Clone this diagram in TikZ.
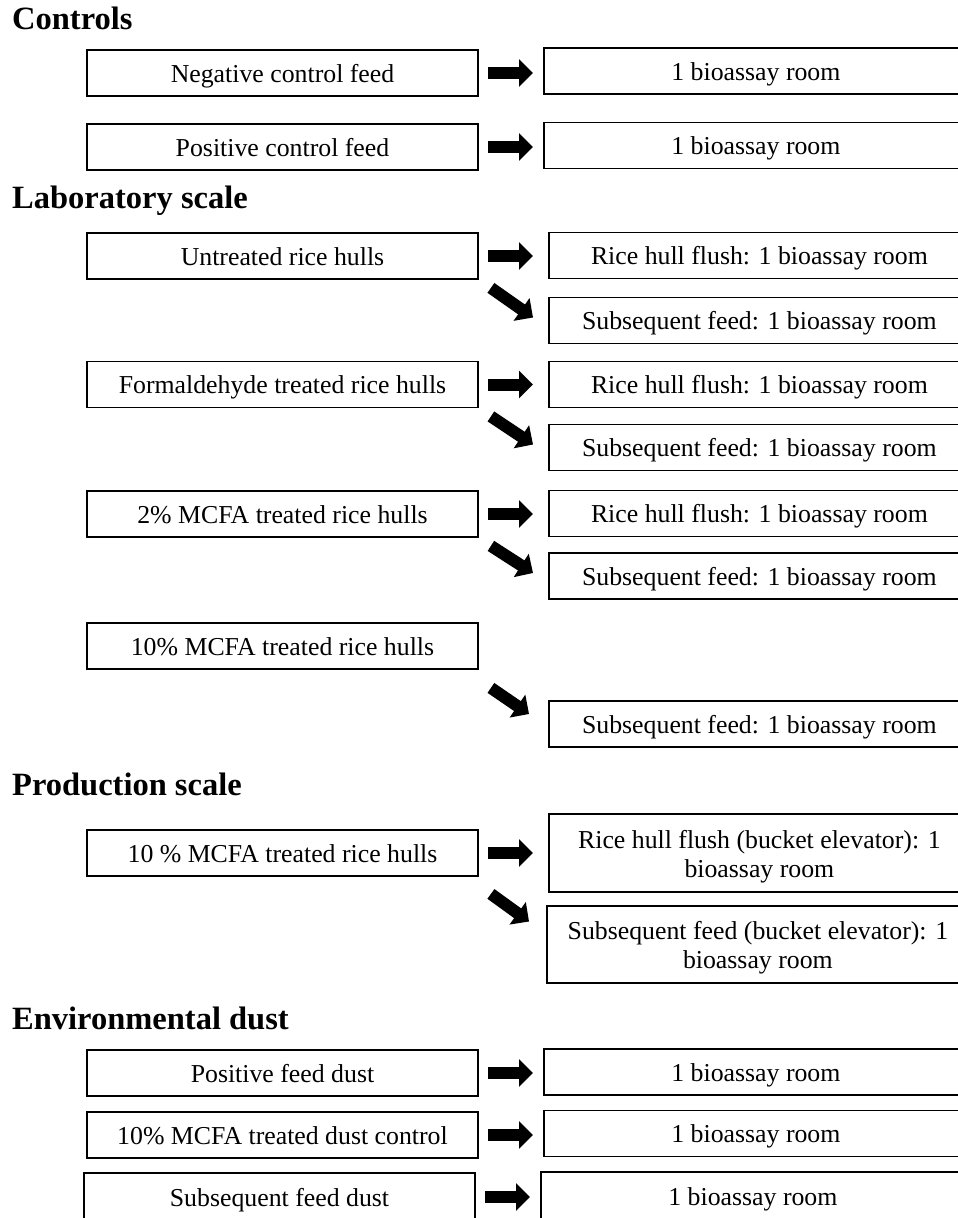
\documentclass[tikz,border=0pt]{standalone}
\usepackage{fontspec}
\setmainfont{Liberation Serif}
\usetikzlibrary{arrows.meta,calc}
\begin{document}
\begin{tikzpicture}[x=1pt,y=-1pt,
  box/.style={draw=black,line width=1.8pt,minimum height=46pt,inner sep=0pt,align=center,
     font=\fontsize{25.8}{29}\selectfont},
  one/.style={text height=19pt,text depth=1pt},
  lbox/.style={box,one,minimum width=391pt},
  rbox/.style={box,anchor=west,minimum width=424pt},
  rone/.style={rbox,one},
  hdr/.style={anchor=base west,inner sep=0pt,font=\fontsize{32.5}{36}\selectfont\bfseries},
  blk/.style={line width=12pt,-{Triangle[length=14pt,width=27pt]}}
]
\useasboundingbox (0,0) rectangle (958,1218);
% headings
\node[hdr] (h1) at (12,29) {Controls};
\node[hdr] (h2) at (12,208) {Laboratory scale};
\node[hdr] (h3) at (12,795) {Production scale};
\node[hdr] (h4) at (12,1029) {Environmental dust};
% controls
\node[lbox] (L1) at (282.5,73) {Negative control feed};
\node[rone] (R1) at (543,71) {1 bioassay room};
\node[lbox] (L2) at (282.5,147) {Positive control feed};
\node[rone] (R2) at (543,145.5) {1 bioassay room};
% laboratory
\node[lbox] (L3) at (282.5,256) {Untreated rice hulls};
\node[rone,minimum width=421pt] (R3a) at (548,255.5) {Rice hull flush: 1 bioassay room};
\node[rone,minimum width=421pt] (R3b) at (548,320.5) {Subsequent feed: 1 bioassay room};
\node[lbox] (L4) at (282.5,384.5) {Formaldehyde treated rice hulls};
\node[rone,minimum width=421pt] (R4a) at (548,384.5) {Rice hull flush: 1 bioassay room};
\node[rone,minimum width=421pt] (R4b) at (548,447.5) {Subsequent feed: 1 bioassay room};
\node[lbox] (L5) at (282.5,514) {2\% MCFA treated rice hulls};
\node[rone,minimum width=421pt] (R5a) at (548,513.5) {Rice hull flush: 1 bioassay room};
\node[rone,minimum width=421pt] (R5b) at (548,576) {Subsequent feed: 1 bioassay room};
\node[lbox] (L6) at (282.5,646) {10\% MCFA treated rice hulls};
\node[rone,minimum width=421pt] (R6b) at (548,724) {Subsequent feed: 1 bioassay room};
% production
\node[lbox] (L7) at (282.5,853) {10 \% MCFA treated rice hulls};
\node[rbox,minimum width=421pt,minimum height=78pt] (R7a) at (548,853)
  {\rule{0pt}{25pt}Rice hull flush (bucket elevator): 1\\ bioassay room};
\node[rbox,minimum width=422pt,minimum height=77pt] (R7b) at (546,944.5)
  {\rule{0pt}{25pt}Subsequent feed (bucket elevator): 1\\ bioassay room};
% environmental
\node[lbox] (L8) at (282.5,1073) {Positive feed dust};
\node[rone] (R8) at (543,1072) {1 bioassay room};
\node[lbox] (L9) at (282.5,1135) {10\% MCFA treated dust control};
\node[rone] (R9) at (543,1133.5) {1 bioassay room};
\node[lbox,minimum height=48pt] (L10) at (279.5,1197) {Subsequent feed dust};
\node[rone,minimum height=48pt] (R10) at (540,1196) {1 bioassay room};
% horizontal arrows
\foreach \a/\b/\s in {L1/R1/10,L2/R2/10,L3/R3a/15,L4/R4a/15,L5/R5a/15,L7/R7a/15,L8/R8/10,L9/R9/10,L10/R10/10}
  \draw[blk] ([xshift=9pt]\a.east) -- ([xshift=-\s pt]\a.east -| \b.west);
% diagonal arrows
\draw[blk] ($(L3.south east)+(12,8)$) -- ($(R3b.west)+(-15,-3)$);
\draw[blk] ($(L4.south east)+(12,8)$) -- ($(R4b.west)+(-15,-3)$);
\draw[blk] ($(L5.south east)+(12,8)$) -- ($(R5b.west)+(-15,-3)$);
\draw[blk] ($(L6.south east)+(12,18)$) -- ($(R6b.west)+(-19,-10)$);
\draw[blk] ($(L7.south east)+(12,17)$) -- ($(R7b.west)+(-17,-23)$);
\end{tikzpicture}
\end{document}
